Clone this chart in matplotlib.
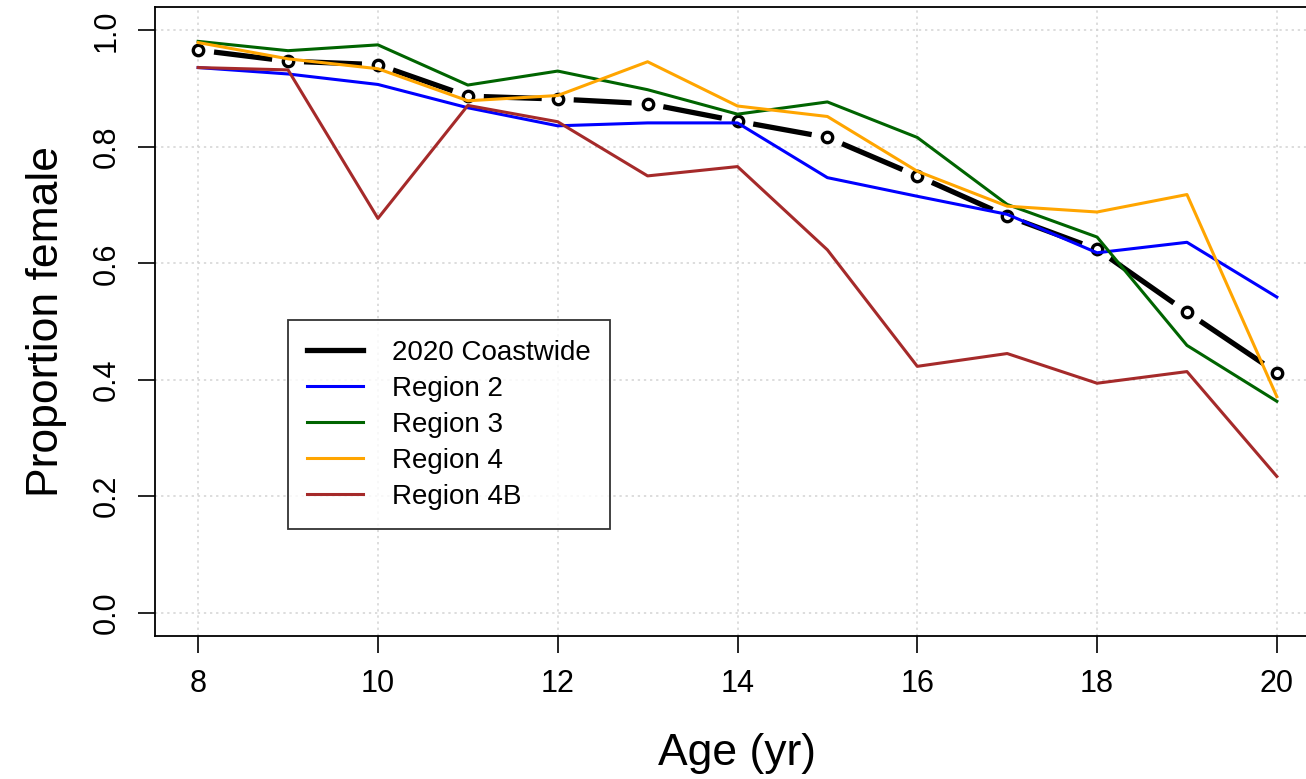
import numpy as np
import matplotlib
matplotlib.use("Agg")
import matplotlib.pyplot as plt

plt.rcParams["font.family"] = ["Liberation Sans", "DejaVu Sans"]

age = [8, 9, 10, 11, 12, 13, 14, 15, 16, 17, 18, 19, 20]

coastwide = [0.966, 0.947, 0.941, 0.887, 0.882, 0.874, 0.844, 0.816, 0.750, 0.681, 0.624, 0.516, 0.412]
region2 = [0.936, 0.925, 0.907, 0.867, 0.836, 0.841, 0.841, 0.747, 0.715, 0.684, 0.618, 0.636, 0.542]
region3 = [0.981, 0.965, 0.975, 0.906, 0.930, 0.898, 0.856, 0.877, 0.816, 0.701, 0.645, 0.459, 0.363]
region4 = [0.979, 0.951, 0.934, 0.879, 0.888, 0.946, 0.870, 0.852, 0.758, 0.698, 0.688, 0.718, 0.371]
region4b = [0.936, 0.932, 0.677, 0.871, 0.843, 0.750, 0.766, 0.623, 0.423, 0.445, 0.394, 0.414, 0.234]

labels = ["2020 Coastwide", "Region 2", "Region 3", "Region 4", "Region 4B"]
colors = ["black", "blue", "darkgreen", "orange", "brown"]

fig = plt.figure(figsize=(13.06, 7.79), dpi=100)
ax = fig.add_axes([155 / 1306, 1 - 636 / 779, 1165 / 1306, 629 / 779])
ax.set_xlim(7.52, 20.48)
ax.set_ylim(-0.04, 1.04)

ax.grid(True, color="lightgray", linestyle=(0, (1.5, 2.5)), linewidth=1.1)
ax.set_axisbelow(True)

# coastwide line drawn R type="b" style: segments stop short of the points
gap = 16
pts = ax.transData.transform(np.column_stack([age, coastwide]))
for p0, p1 in zip(pts[:-1], pts[1:]):
    d = p1 - p0
    u = d / np.hypot(*d)
    seg = ax.transData.inverted().transform([p0 + u * gap, p1 - u * gap])
    ax.plot(seg[:, 0], seg[:, 1], color="black", linewidth=3.8, solid_capstyle="butt")
ax.plot(age, coastwide, linestyle="none", marker="o", markersize=7.5,
        markerfacecolor="white", markeredgecolor="black", markeredgewidth=2.4)

handles = [ax.plot([], [], color="black", linewidth=3.8)[0]]
for vals, c in zip([region2, region3, region4, region4b], colors[1:]):
    h, = ax.plot(age, vals, color=c, linewidth=2.2)
    handles.append(h)

ax.set_xticks([8, 10, 12, 14, 16, 18, 20])
ax.set_yticks([0.0, 0.2, 0.4, 0.6, 0.8, 1.0])
ax.set_yticklabels(["0.0", "0.2", "0.4", "0.6", "0.8", "1.0"], rotation=90, va="center")
ax.tick_params(axis="both", direction="out", length=12, width=1.2, labelsize=22)
ax.tick_params(axis="x", pad=12)
ax.tick_params(axis="y", pad=12)
for s in ax.spines.values():
    s.set_linewidth(1.3)

ax.set_xlabel("Age (yr)", fontsize=32, labelpad=24)
ax.set_ylabel("Proportion female", fontsize=32, labelpad=18)

leg = ax.legend(handles, labels, loc="lower left", bbox_to_anchor=(0.114, 0.170),
                borderaxespad=0, fontsize=20, frameon=True, fancybox=False,
                handlelength=2.0, handletextpad=1.05, labelspacing=0.36,
                borderpad=0.7)
leg.get_frame().set_edgecolor("black")
leg.get_frame().set_linewidth(1.3)

fig.savefig("out.png", dpi=100)
